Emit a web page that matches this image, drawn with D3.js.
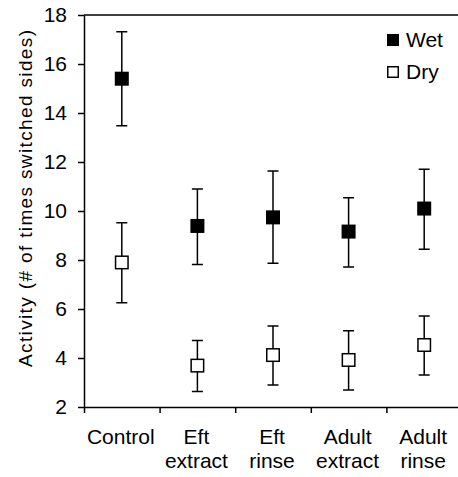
<!DOCTYPE html>
<html>
<head>
<meta charset="utf-8">
<script src="https://cdn.jsdelivr.net/npm/d3@7"></script>
<style>
    body { margin: 0; background: #fff; }
    svg { display: block; font-family: "Liberation Sans", Arial, sans-serif; }
</style>
</head>
<body>
<div id="chart"></div>
<script>
// Data
const categories = ['Control', 'Eft extract', 'Eft rinse', 'Adult extract', 'Adult rinse'];
const categoryLines = [['Control'], ['Eft', 'extract'], ['Eft', 'rinse'], ['Adult', 'extract'], ['Adult', 'rinse']];
const wetMean = [15.4, 9.39, 9.74, 9.16, 10.1];
const wetUpper = [17.32, 10.9, 11.63, 10.54, 11.7];
const wetLower = [13.48, 7.82, 7.87, 7.71, 8.44];
const dryMean = [7.9, 3.69, 4.12, 3.92, 4.53];
const dryUpper = [9.52, 4.71, 5.31, 5.11, 5.71];
const dryLower = [6.26, 2.63, 2.9, 2.69, 3.31];
const yTicks = [2, 4, 6, 8, 10, 12, 14, 16, 18];
const seriesNames = ['Wet', 'Dry'];

const W = 458, H = 477;
const margin = { top: 15, left: 84 };
const plotW = 378;
const plotH = 392;

const svg = d3.select('#chart')
    .append('svg')
    .attr('width', W)
    .attr('height', H);

const g = svg.append('g')
    .attr('transform', `translate(${margin.left}, ${margin.top})`);

const x = d3.scaleBand()
    .domain(categories)
    .range([0, plotW])
    .padding(0);

const y = d3.scaleLinear()
    .domain([2, 18])
    .range([plotH, 0]);

// frame (top + right)
g.append('path')
    .attr('d', `M0,0H${plotW}V${plotH}`)
    .attr('fill', 'none')
    .attr('stroke', '#000')
    .attr('stroke-width', 1.5);

// y axis
const yAxis = g.append('g')
    .call(d3.axisLeft(y).tickValues(yTicks).tickSize(6).tickPadding(11).tickSizeOuter(0));
yAxis.select('.domain').attr('stroke-width', 1.5);
yAxis.selectAll('.tick line').attr('stroke-width', 1.5);
yAxis.selectAll('.tick text').attr('font-size', 21).attr('fill', '#000')
    .attr('font-family', '"Liberation Sans", Arial, sans-serif');

// x axis: ticks on band boundaries
const xb = d3.scaleLinear().domain([0, categories.length]).range([0, plotW]);
const xAxis = g.append('g')
    .attr('transform', `translate(0, ${plotH})`)
    .call(d3.axisBottom(xb).tickValues(d3.range(0, categories.length + 1)).tickSize(6).tickFormat('').tickSizeOuter(0));
xAxis.select('.domain').attr('stroke-width', 1.5);
xAxis.selectAll('.tick line').attr('stroke-width', 1.5);

// category labels
const labels = g.append('g').attr('font-size', 21).attr('text-anchor', 'middle');
categoryLines.forEach((lines, i) => {
    const t = labels.append('text')
        .attr('x', x(categories[i]) + x.bandwidth() / 2 - 1)
        .attr('y', plotH + 37);
    lines.forEach((ln, j) => {
        t.append('tspan')
            .attr('x', x(categories[i]) + x.bandwidth() / 2 - 1)
            .attr('dy', j === 0 ? 0 : 24)
            .text(ln);
    });
});

// y axis title
svg.append('text')
    .attr('transform', 'translate(31.5, 198.5) rotate(-90)')
    .attr('text-anchor', 'middle')
    .attr('font-size', 19)
    .attr('textLength', 337)
    .attr('lengthAdjust', 'spacing')
    .text('Activity (# of times switched sides)');

const series = [
    { name: 'Wet', mean: wetMean, lo: wetLower, hi: wetUpper, fill: '#000' },
    { name: 'Dry', mean: dryMean, lo: dryLower, hi: dryUpper, fill: '#fff' }
];

const cx = c => x(c) + x.bandwidth() / 2;
const cap = 5.5;
const sq = 12.5;

series.forEach(s => {
    const pts = categories.map((c, i) => ({ c, m: s.mean[i], lo: s.lo[i], hi: s.hi[i] }));
    const eg = g.append('g').attr('stroke', '#000').attr('stroke-width', 1.5).attr('fill', 'none');
    eg.selectAll('path')
        .data(pts)
        .enter()
        .append('path')
        .attr('d', d => `M${cx(d.c)},${y(d.lo)}V${y(d.hi)}M${cx(d.c) - cap},${y(d.hi)}H${cx(d.c) + cap}M${cx(d.c) - cap},${y(d.lo)}H${cx(d.c) + cap}`);
    g.append('g').selectAll('rect')
        .data(pts)
        .enter()
        .append('rect')
        .attr('x', d => cx(d.c) - sq / 2)
        .attr('y', d => y(d.m) - sq / 2)
        .attr('width', sq)
        .attr('height', sq)
        .attr('fill', s.fill)
        .attr('stroke', '#000')
        .attr('stroke-width', 1.5);
});

// legend
const legend = svg.append('g').attr('transform', 'translate(387, 34)');
seriesNames.forEach((name, i) => {
    const row = legend.append('g').attr('transform', `translate(0, ${i * 32})`);
    row.append('rect')
        .attr('x', 0.75)
        .attr('y', 0.75)
        .attr('width', 10.5)
        .attr('height', 10.5)
        .attr('fill', series[i].fill)
        .attr('stroke', '#000')
        .attr('stroke-width', 1.5);
    row.append('text')
        .attr('x', 19)
        .attr('y', 12.5)
        .attr('font-size', 21)
        .text(name);
});
</script>
</body>
</html>
